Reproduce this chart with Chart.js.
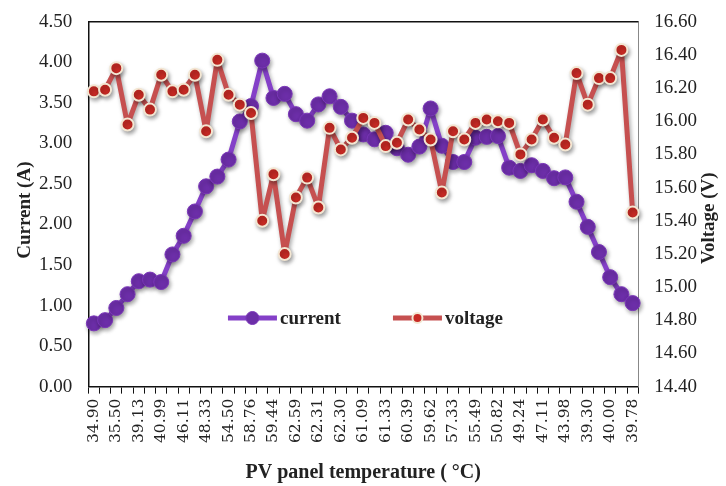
<!DOCTYPE html>
<html><head><meta charset="utf-8">
<script src="https://cdn.jsdelivr.net/npm/chart.js@4.4.1/dist/chart.umd.min.js"></script>
<style>html,body{margin:0;padding:0;background:#fff}#wrap{width:726px;height:486px}</style>
</head><body><div id="wrap"><canvas id="c" width="726" height="486"></canvas></div>
<script>
// Shown tick labels (every other category)
const tickLabels = ['34.90','35.50','39.13','40.99','46.11','48.33','54.50','58.76','59.44','62.59','62.31','62.30','61.09','61.33','60.39','59.62','57.33','55.49','50.82','49.24','47.11','43.98','39.30','40.00','39.78'];
// 49 measurement categories; odd ones are unlabeled in the reference
const categories = [];
for (let i = 0; i < 49; i++) categories.push(i % 2 === 0 ? tickLabels[i / 2] : '');

const current = [0.78,0.82,0.97,1.14,1.30,1.32,1.29,1.63,1.86,2.16,2.47,2.59,2.80,3.27,3.46,4.02,3.56,3.61,3.36,3.28,3.48,3.58,3.45,3.28,3.11,3.05,3.13,2.94,2.86,2.96,3.43,2.97,2.77,2.77,3.07,3.08,3.09,2.70,2.66,2.73,2.66,2.57,2.58,2.28,1.97,1.66,1.35,1.14,1.03];
const voltage = [16.18,16.19,16.32,15.98,16.16,16.07,16.28,16.18,16.19,16.28,15.94,16.37,16.16,16.10,16.05,15.40,15.68,15.20,15.54,15.66,15.48,15.96,15.83,15.90,16.02,15.99,15.85,15.87,16.01,15.95,15.89,15.57,15.94,15.89,15.99,16.01,16.00,15.99,15.80,15.89,16.01,15.90,15.86,16.29,16.10,16.26,16.26,16.43,15.45];

const seriesNames = ['current','voltage'];
const axisTitles = ['PV panel temperature ( °C)', 'Current (A)', 'Voltage (V)'];
const currentRange = [0, 4.5, 0.5];
const voltageRange = [14.4, 16.6, 0.2];

const serif = "'Liberation Serif','Times New Roman',serif";
const wideSerif = "'DejaVu Serif',serif";
const textColor = '#222';

const shadowPlugin = {
  id: 'shadow',
  beforeDatasetsDraw(chart) {
    const ctx = chart.ctx; ctx.save();
    ctx.shadowColor = 'rgba(0,0,0,0.35)'; ctx.shadowBlur = 4; ctx.shadowOffsetX = 1.5; ctx.shadowOffsetY = 2.5;
  },
  afterDatasetsDraw(chart) { chart.ctx.restore(); }
};

function vTitle(ctx, text, x, y) {
  ctx.save();
  ctx.fillStyle = textColor;
  ctx.font = "bold 19px " + serif;
  ctx.textAlign = 'center'; ctx.textBaseline = 'middle';
  ctx.translate(x, y);
  ctx.rotate(-Math.PI / 2);
  ctx.fillText(text, 0, 0);
  ctx.restore();
}

const framePlugin = {
  id: 'frame',
  afterDraw(chart) {
    const {ctx, chartArea} = chart;
    ctx.save();
    ctx.strokeStyle = '#111'; ctx.lineWidth = 1.5;
    ctx.beginPath(); ctx.moveTo(chartArea.left, chartArea.top); ctx.lineTo(chartArea.right, chartArea.top); ctx.stroke();
    ctx.restore();
    const midY = (chartArea.top + chartArea.bottom) / 2;
    vTitle(ctx, axisTitles[1], 25, midY + 6);
    vTitle(ctx, axisTitles[2], chart.width - 17, midY + 14);
    // legend inside plot area
    ctx.save();
    const items = [{ds: chart.data.datasets[0], fx: 0.254, r: 6.5}, {ds: chart.data.datasets[1], fx: 0.554, r: 5}];
    const y = chartArea.top + 0.812 * (chartArea.bottom - chartArea.top);
    items.forEach(it => {
      const x0 = chartArea.left + it.fx * (chartArea.right - chartArea.left);
      ctx.strokeStyle = it.ds.borderColor; ctx.lineWidth = 5; ctx.lineCap = 'butt';
      ctx.beginPath(); ctx.moveTo(x0, y); ctx.lineTo(x0 + 49, y); ctx.stroke();
      ctx.beginPath(); ctx.arc(x0 + 24.5, y, it.r, 0, Math.PI * 2);
      ctx.fillStyle = it.ds.pointBackgroundColor; ctx.fill();
      ctx.lineWidth = it.ds.pointBorderWidth; ctx.strokeStyle = it.ds.pointBorderColor; ctx.stroke();
      ctx.fillStyle = textColor; ctx.font = "bold 19px " + serif;
      ctx.textAlign = 'left'; ctx.textBaseline = 'middle';
      ctx.fillText(it.ds.label, x0 + 52, y + 1);
    });
    ctx.restore();
  }
};

new Chart(document.getElementById('c'), {
  type: 'line',
  data: {
    labels: categories,
    datasets: [
      {label: seriesNames[0], data: current, yAxisID: 'y', order: 1,
       borderColor: '#8440C8', borderWidth: 5, borderJoinStyle: 'round', pointRadius: 7.5, pointHoverRadius: 7.5,
       pointBackgroundColor: '#6C2EA8', pointBorderColor: '#7A36B8', pointBorderWidth: 1, tension: 0},
      {label: seriesNames[1], data: voltage, yAxisID: 'y1', order: 0,
       borderColor: '#C65050', borderWidth: 5, borderJoinStyle: 'round', pointRadius: 6, pointHoverRadius: 6,
       pointBackgroundColor: '#C82A24', pointBorderColor: '#F3E6D2', pointBorderWidth: 2, tension: 0}
    ]
  },
  options: {
    responsive: false, animation: false,
    layout: {padding: {left: 23, right: 13, top: 0, bottom: 1}},
    plugins: {legend: {display: false}, tooltip: {enabled: false}},
    scales: {
      x: {
        offset: true,
        grid: {display: true, offset: true, drawOnChartArea: false, drawTicks: true, tickLength: 7, color: '#111', lineWidth: 1},
        border: {display: true, color: '#111', width: 1.5},
        ticks: {autoSkip: false, maxRotation: 90, minRotation: 90, color: textColor, padding: 5, font: {family: wideSerif, size: 15.5}},
        title: {display: true, text: axisTitles[0], color: textColor, font: {family: serif, size: 20, weight: 'bold'}, padding: {top: 13, bottom: 0}}
      },
      y: {
        position: 'left', min: currentRange[0], max: currentRange[1],
        grid: {display: false, drawTicks: false},
        border: {display: true, color: '#111', width: 1.5},
        ticks: {stepSize: currentRange[2], color: textColor, padding: 16, font: {family: serif, size: 19, lineHeight: 0.6}, callback: v => Number(v).toFixed(2)}
      },
      y1: {
        position: 'right', min: voltageRange[0], max: voltageRange[1],
        grid: {display: false, drawTicks: false},
        border: {display: true, color: '#888', width: 1},
        ticks: {stepSize: voltageRange[2], color: textColor, padding: 16, font: {family: serif, size: 19, lineHeight: 0.6}, callback: v => Number(v).toFixed(2)}
      }
    }
  },
  plugins: [shadowPlugin, framePlugin]
});
</script></body></html>
